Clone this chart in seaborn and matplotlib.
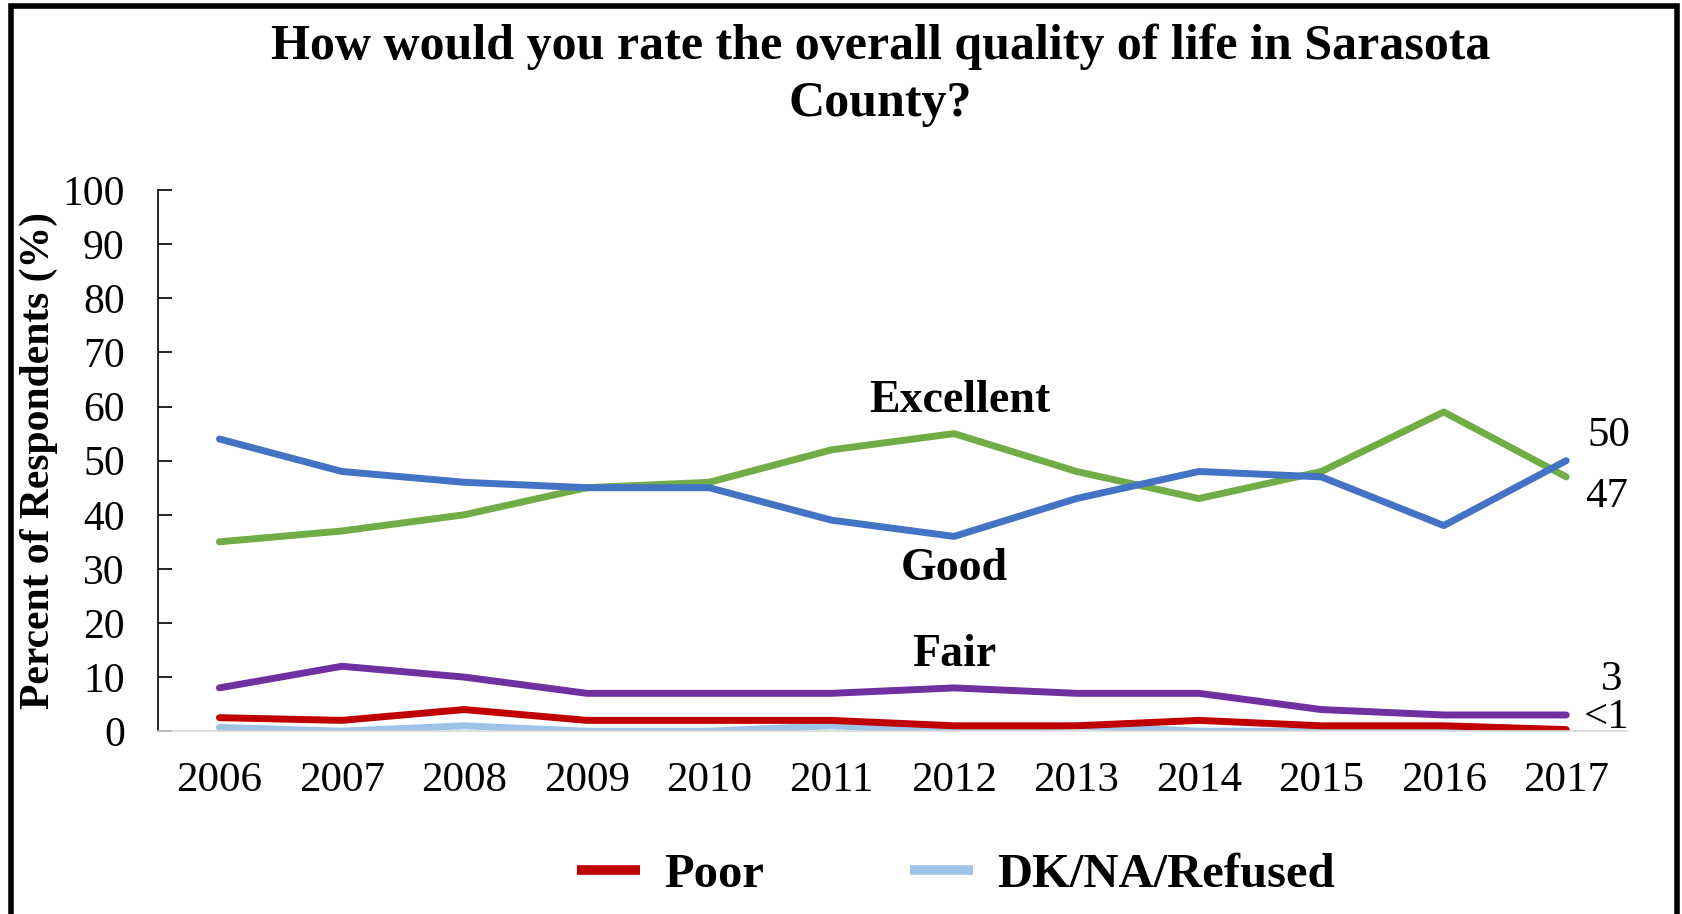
import matplotlib.pyplot as plt
import pandas as pd
import seaborn as sns
from matplotlib.lines import Line2D
from matplotlib.patches import Rectangle

# Data
years = [2006, 2007, 2008, 2009, 2010, 2011, 2012, 2013, 2014, 2015, 2016, 2017]
excellent = [35, 37, 40, 45, 46, 52, 55, 48, 43, 48, 59, 47]
good = [54, 48, 46, 45, 45, 39, 36, 43, 48, 47, 38, 50]
fair = [8, 12, 10, 7, 7, 7, 8, 7, 7, 4, 3, 3]
poor = [2.5, 2, 4, 2, 2, 2, 1, 1, 2, 1, 1, 0.3]
dk_na = [0.7, 0, 1, 0, 0, 1, 0, 1, 0, 0, 0, 0]

series_names = ['Excellent', 'Good', 'Fair', 'Poor', 'DK/NA/Refused']
colors = {
    'Excellent': '#70AD47',
    'Good': '#4472C4',
    'Fair': '#7030A0',
    'Poor': '#C00000',
    'DK/NA/Refused': '#9DC3E6',
}

df = pd.DataFrame({
    'year': years * 5,
    'value': excellent + good + fair + poor + dk_na,
    'rating': [n for n in series_names for _ in years],
})

sns.set_style('white')
plt.rcParams['font.family'] = ['Liberation Serif', 'DejaVu Serif']
plt.rcParams['text.color'] = 'black'
plt.rcParams['axes.labelcolor'] = 'black'
plt.rcParams['xtick.color'] = 'black'
plt.rcParams['ytick.color'] = 'black'

fig = plt.figure(figsize=(16.83, 9.14), dpi=100)
ax = fig.add_axes([0.094, 0.200, 0.873, 0.592])

# draw DK first so the coloured lines sit above it
sns.lineplot(
    data=df,
    x='year',
    y='value',
    hue='rating',
    hue_order=['DK/NA/Refused', 'Poor', 'Fair', 'Excellent', 'Good'],
    palette=colors,
    linewidth=5,
    legend=False,
    ax=ax,
)

ax.set_xlim(2005.5, 2017.5)
ax.set_ylim(0, 100)
ax.set_yticks(range(0, 101, 10))
ax.set_xticks(years)
ax.set_xticklabels([str(y) for y in years])
ax.set_xlabel('')
ax.set_ylabel('Percent of Respondents (%)', fontsize=30, fontweight='bold', labelpad=3)
ax.tick_params(axis='y', direction='in', length=10, width=1.2,
               labelsize=30, pad=24, left=True)
ax.tick_params(axis='x', length=0, labelsize=31, pad=22)

for side in ['top', 'right']:
    ax.spines[side].set_visible(False)
ax.spines['left'].set_color('black')
ax.spines['left'].set_linewidth(1.2)
ax.spines['bottom'].set_color('#D9D9D9')
ax.spines['bottom'].set_linewidth(1.2)

# series labels on the chart
ax.text(2012.05, 61.1, 'Excellent', fontsize=33, fontweight='bold', ha='center', va='center')
ax.text(2012.0, 29.9, 'Good', fontsize=33, fontweight='bold', ha='center', va='center')
ax.text(2012.0, 14.1, 'Fair', fontsize=33, fontweight='bold', ha='center', va='center')

# end-of-line value labels
ax.text(2017.35, 54.6, '50', fontsize=31, ha='center', va='center')
ax.text(2017.33, 43.3, '47', fontsize=31, ha='center', va='center')
ax.text(2017.37, 9.5, '3', fontsize=31, ha='center', va='center')
ax.text(2017.33, 2.4, '<1', fontsize=31, ha='center', va='center')

fig.text(0.523, 0.949, 'How would you rate the overall quality of life in Sarasota',
         fontsize=36, fontweight='bold', ha='center', va='center')
fig.text(0.523, 0.886, 'County?', fontsize=36, fontweight='bold', ha='center', va='center')

handles = [
    Line2D([], [], color=colors['Poor'], linewidth=7, solid_capstyle='butt'),
    Line2D([], [], color=colors['DK/NA/Refused'], linewidth=7, solid_capstyle='butt'),
]
fig.legend(handles, ['Poor', 'DK/NA/Refused'], loc='center', bbox_to_anchor=(0.568, 0.043),
           ncol=2, frameon=False, handlelength=1.3, handletextpad=0.5, columnspacing=3.0,
           prop={'size': 35, 'weight': 'bold'})

# outer frame (bottom edge falls outside the image)
fig.add_artist(Rectangle((0.0065, -0.05), 0.990, 1.043, transform=fig.transFigure,
                         fill=False, edgecolor='black', linewidth=4))

fig.savefig('out.png', dpi=100)
